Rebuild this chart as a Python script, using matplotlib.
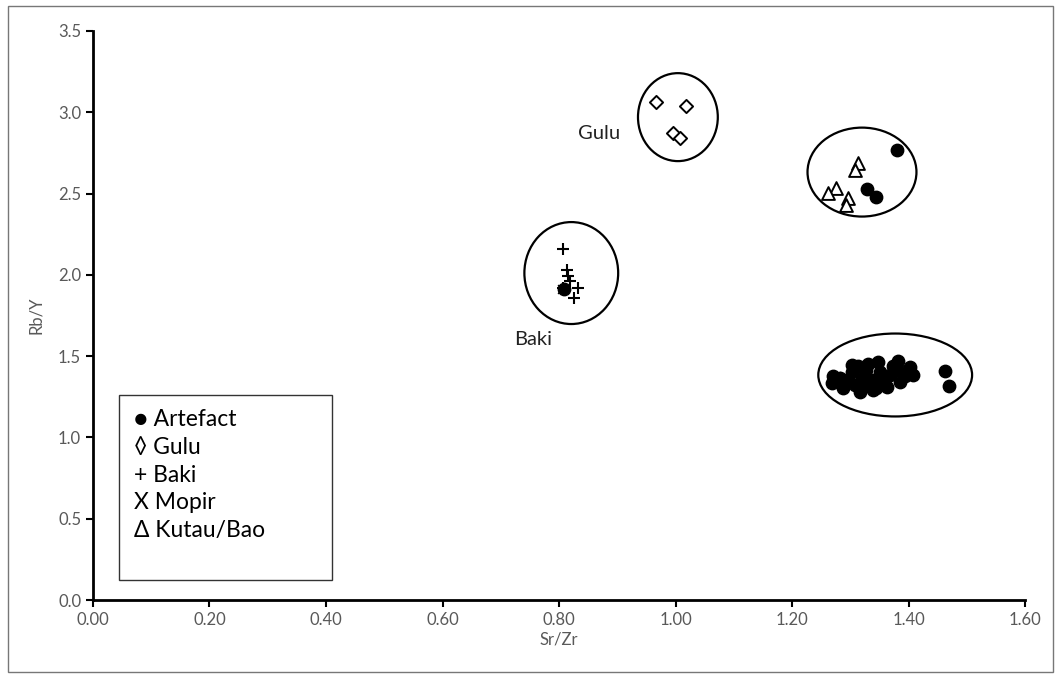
import matplotlib.pyplot as plt
from matplotlib.patches import Ellipse, Rectangle

plt.rcParams['font.family'] = ['Lato', 'DejaVu Sans']

# Artefact samples (Sr/Zr, Rb/Y)
art_x = [1.270, 1.269, 1.288, 1.296, 1.303, 1.313, 1.317, 1.320, 1.327, 1.330,
         1.339, 1.337, 1.348, 1.351, 1.358, 1.363, 1.368, 1.373, 1.382, 1.382,
         1.385, 1.394, 1.403, 1.408, 1.308, 1.325, 1.344, 1.282, 1.303, 1.355,
         1.463, 1.470,
         1.380, 1.329, 1.344,
         0.809]
art_y = [1.378, 1.335, 1.304, 1.353, 1.402, 1.439, 1.279, 1.365, 1.415, 1.451,
         1.292, 1.353, 1.464, 1.402, 1.328, 1.310, 1.384, 1.439, 1.470, 1.415,
         1.341, 1.378, 1.433, 1.384, 1.322, 1.316, 1.304, 1.365, 1.445, 1.370,
         1.408, 1.316,
         2.770, 2.530, 2.480,
         1.910]

gulu_x = [0.967, 1.018, 0.996, 1.008]
gulu_y = [3.06, 3.04, 2.87, 2.84]

baki_x = [0.807, 0.814, 0.815, 0.819, 0.807, 0.833, 0.826]
baki_y = [2.16, 2.03, 1.99, 1.96, 1.92, 1.92, 1.86]

mopir_x = [1.289, 1.300, 0.805]
mopir_y = [1.380, 1.360, 1.915]

kutau_x = [1.313, 1.308, 1.276, 1.262, 1.296, 1.293]
kutau_y = [2.69, 2.645, 2.534, 2.503, 2.472, 2.43]

# group ellipses: centre x, centre y, width, height
groups_cx = [1.004, 1.320, 0.821, 1.377]
groups_cy = [2.97, 2.632, 2.011, 1.384]
groups_w = [0.137, 0.187, 0.161, 0.264]
groups_h = [0.541, 0.547, 0.627, 0.510]

legend_lines = ['\u25CF Artefact', '\u25CA Gulu', '+ Baki', 'X Mopir', '\u0394 Kutau/Bao']

fig = plt.figure(figsize=(10.59, 6.76), dpi=100)
ax = fig.add_axes([0.0878, 0.1124, 0.8802, 0.8418])

ax.scatter(mopir_x, mopir_y, marker='x', s=40, c='black', linewidths=1.2, zorder=3)
ax.scatter(gulu_x, gulu_y, marker='D', s=45, facecolors='white', edgecolors='black', linewidths=1.4, zorder=3)
ax.scatter(baki_x, baki_y, marker='+', s=75, c='black', linewidths=1.5, zorder=3)
ax.scatter(kutau_x, kutau_y, marker='^', s=85, facecolors='white', edgecolors='black', linewidths=1.4, zorder=3)
ax.scatter(art_x, art_y, marker='o', s=80, c='black', zorder=4)

for cx, cy, w, h in zip(groups_cx, groups_cy, groups_w, groups_h):
    ax.add_patch(Ellipse((cx, cy), w, h, fill=False, edgecolor='black', linewidth=1.6, zorder=5))

ax.text(0.868, 2.87, 'Gulu', fontsize=14.5, ha='center', va='center', color='#222222')
ax.text(0.755, 1.60, 'Baki', fontsize=14.5, ha='center', va='center', color='#222222')

ax.set_xlim(0, 1.6)
ax.set_ylim(0, 3.5)
ax.set_xticks([i * 0.2 for i in range(9)])
ax.set_xticklabels(['%.2f' % (i * 0.2) for i in range(9)])
ax.set_yticks([i * 0.5 for i in range(8)])
ax.set_yticklabels(['%.1f' % (i * 0.5) for i in range(8)])
ax.tick_params(colors='#595959', labelsize=12, length=5, width=1.5, direction='out')
ax.tick_params(axis='both', color='black')
for s in ['top', 'right']:
    ax.spines[s].set_visible(False)
for s in ['left', 'bottom']:
    ax.spines[s].set_linewidth(2)
ax.set_xlabel('Sr/Zr', fontsize=12, color='#595959', labelpad=3)
ax.set_ylabel('Rb/Y', fontsize=12, color='#595959', labelpad=10)

# legend text box
fig.patches.append(Rectangle((119 / 1059, 1 - 580 / 676), 213 / 1059, 185 / 676,
                             transform=fig.transFigure, fill=False, edgecolor='#333333', linewidth=1))
for i, t in enumerate(legend_lines):
    fig.text(134 / 1059, 1 - (420 + i * 27.5) / 676, t, fontsize=16.5, va='center', ha='left', color='black')

# outer chart border
fig.patches.append(Rectangle((8 / 1059, 4 / 676), 1045 / 1059, 666 / 676,
                             transform=fig.transFigure, fill=False, edgecolor='#777777', linewidth=1))

fig.savefig('out.png', dpi=100)
